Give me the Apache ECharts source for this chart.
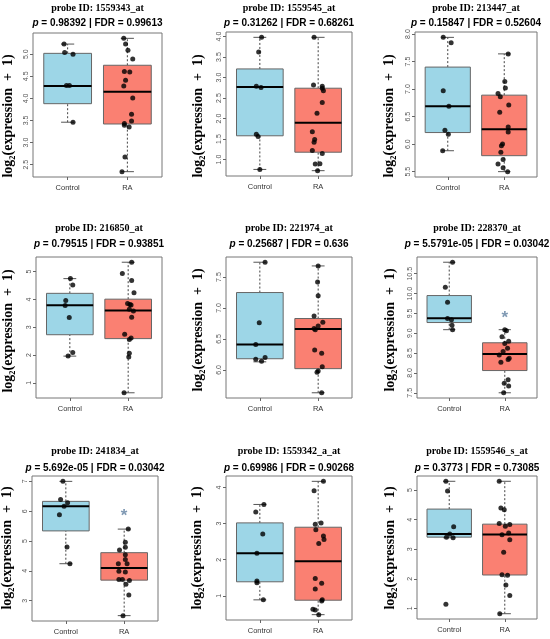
<!DOCTYPE html>
<html>
<head>
<meta charset="utf-8">
<script src="https://cdn.jsdelivr.net/npm/echarts@6/dist/echarts.min.js"></script>
<style>html,body{margin:0;background:#fff}#chart{width:550px;height:639px}</style>
</head>
<body>
<div id="chart"></div>
<script>
// 数据
const groups = ['Control', 'RA'];
const probes = ['1559343_at', '1559545_at', '213447_at', '216850_at', '221974_at', '228370_at', '241834_at', '1559342_a_at', '1559546_s_at'];
const pText = ['0.98392', '0.31262', '0.15847', '0.79515', '0.25687', '5.5791e-05', '5.692e-05', '0.69986', '0.3773'];
const fdrText = ['0.99613', '0.68261', '0.52604', '0.93851', '0.636', '0.03042', '0.03042', '0.90268', '0.73085'];

// [lo, Q1, median, Q3, hi]
const ctrlBox = [
  [3.46, 3.88, 4.28, 5.02, 5.23],
  [0.76, 1.58, 2.77, 3.21, 3.98],
  [5.88, 6.21, 6.69, 7.40, 7.94],
  [1.96, 2.73, 3.79, 4.22, 4.75],
  [6.13, 6.18, 6.41, 7.25, 7.74],
  [9.09, 9.27, 9.38, 9.95, 10.79],
  [4.24, 5.34, 6.17, 6.33, 7.00],
  [0.89, 1.39, 2.18, 3.02, 3.53],
  [3.39, 3.41, 3.52, 4.36, 5.30]
];
const raBox = [
  [2.34, 3.42, 4.15, 4.75, 5.36],
  [0.73, 1.18, 1.90, 2.74, 3.98],
  [5.50, 5.79, 6.27, 6.89, 7.64],
  [0.64, 2.59, 3.60, 4.01, 5.34],
  [5.63, 6.02, 6.66, 6.83, 7.68],
  [7.50, 8.06, 8.48, 8.76, 9.09],
  [2.50, 3.69, 4.10, 4.61, 5.40],
  [0.48, 0.88, 1.96, 2.90, 4.17],
  [0.82, 2.13, 3.50, 3.85, 5.30]
];

// 样本点
const ctrlVals = [
  [5.23, 5.04, 5.00, 4.29, 4.29, 3.46],
  [3.98, 3.62, 2.79, 2.76, 1.62, 1.56, 0.76],
  [7.94, 7.84, 6.97, 6.69, 6.25, 6.18, 5.88],
  [4.75, 4.52, 3.96, 3.78, 3.35, 2.09, 1.96],
  [7.74, 6.76, 6.41, 6.17, 6.14, 6.20],
  [10.79, 10.16, 9.78, 9.37, 9.34, 9.20, 9.09],
  [7.00, 6.39, 6.28, 6.17, 5.88, 4.80, 4.24],
  [3.53, 3.32, 2.71, 2.18, 1.41, 1.36, 0.89],
  [5.30, 4.97, 3.76, 3.52, 3.41, 3.39, 1.14]
];
const raVals = [
  [5.36, 5.23, 5.09, 4.89, 4.61, 4.60, 4.41, 4.28, 4.01, 3.64, 3.49, 3.43, 3.39, 3.35, 2.67, 2.34],
  [3.98, 2.82, 2.79, 2.74, 2.68, 2.39, 2.13, 1.68, 1.49, 1.42, 1.22, 1.15, 0.89, 0.90, 0.73],
  [7.64, 7.14, 7.02, 6.92, 6.86, 6.71, 6.58, 6.31, 6.22, 6.00, 5.97, 5.85, 5.72, 5.64, 5.57, 5.50],
  [5.34, 4.93, 4.68, 4.24, 3.85, 3.82, 3.80, 3.65, 3.58, 3.36, 2.75, 2.61, 2.56, 2.06, 1.93, 0.64],
  [7.68, 7.42, 7.20, 6.87, 6.77, 6.71, 6.67, 6.65, 6.32, 6.27, 6.05, 5.98, 5.96, 5.63],
  [9.09, 9.06, 8.91, 8.80, 8.74, 8.62, 8.54, 8.45, 8.34, 8.37, 8.27, 7.83, 7.74, 7.67, 7.50],
  [5.40, 4.96, 4.79, 4.70, 4.54, 4.38, 4.24, 4.24, 3.99, 3.96, 3.71, 3.71, 3.68, 3.55, 3.19, 2.50],
  [4.17, 3.91, 3.02, 2.98, 2.83, 2.66, 2.56, 2.45, 1.48, 1.35, 1.19, 0.89, 0.86, 0.63, 0.61, 0.48],
  [5.30, 4.40, 4.34, 3.87, 3.78, 3.84, 3.49, 3.55, 3.32, 2.90, 2.14, 2.12, 1.79, 1.44, 0.82]
];

// 抖动偏移
const ctrlJitter = [
  [-0.06, -0.05, 0.09, -0.02, 0.03, 0.09],
  [0.03, -0.02, -0.06, 0.02, -0.06, -0.03, 0],
  [-0.08, 0.06, -0.08, 0.02, -0.05, 0.01, -0.09],
  [0.01, 0.05, -0.07, -0.08, -0.01, 0.05, -0.03],
  [0.09, -0.01, -0.07, -0.07, 0.03, 0.09],
  [0.06, -0.07, -0.03, -0.03, 0.04, 0.05, 0.06],
  [-0.05, -0.09, 0.03, -0.03, -0.11, 0.02, 0.07],
  [0.07, -0.07, 0.05, -0.05, -0.05, -0.05, 0.06],
  [-0.06, -0.03, 0.08, 0.01, -0.05, 0.07, -0.06]
];
const raJitter = [
  [-0.06, -0.03, 0.01, 0.09, -0.05, 0.04, -0.03, -0.06, 0.09, 0.07, 0.07, -0.05, -0.05, 0.03, -0.04, -0.09],
  [-0.07, -0.08, 0.07, 0.07, 0.09, 0.07, -0.02, -0.10, -0.06, -0.07, -0.10, 0.07, -0.05, 0.03, -0.01],
  [0.07, 0.01, 0.02, -0.11, -0.07, 0.08, -0.08, 0.07, 0.07, -0.03, -0.05, -0.06, -0.02, -0.11, -0.02, 0.06],
  [0.06, -0.10, 0.06, 0.10, -0.01, 0.03, 0.05, 0.02, 0.09, 0.06, -0.06, 0.05, 0.02, 0.02, 0.01, -0.07],
  [0, -0.01, 0, -0.07, 0.08, 0, -0.07, -0.05, -0.06, 0.06, 0.07, 0, -0.02, 0.06],
  [0, 0.03, -0.05, 0.07, 0, 0.05, -0.03, -0.10, 0.06, 0.08, -0.07, 0.06, -0.01, 0.07, -0.02],
  [0.07, 0.02, 0.02, -0.08, 0.02, 0.02, -0.10, 0.05, -0.09, 0.02, -0.09, -0.03, 0.09, 0.03, 0.08, -0.02],
  [0.09, -0.07, 0.05, -0.05, -0.04, 0.09, 0.10, 0.01, -0.05, 0.06, -0.05, 0.07, 0.06, -0.09, -0.05, 0.01],
  [-0.10, -0.07, -0.01, -0.10, 0.01, 0.09, -0.05, 0.07, 0.09, -0.02, -0.05, 0.05, 0.02, 0.09, -0.09]
];

// 显著性星号位置
const starY = [null, null, null, null, null, 9.47, 5.96, null, null];

// 纵轴刻度
const yTickLabels = [
  ['2.5', '3.0', '3.5', '4.0', '4.5', '5.0'],
  ['1.0', '1.5', '2.0', '2.5', '3.0', '3.5', '4.0'],
  ['5.5', '6.0', '6.5', '7.0', '7.5', '8.0'],
  ['1', '2', '3', '4', '5'],
  ['6.0', '6.5', '7.0', '7.5'],
  ['7.5', '8.0', '8.5', '9.0', '9.5', '10.0', '10.5'],
  ['3', '4', '5', '6', '7'],
  ['1', '2', '3', '4'],
  ['1', '2', '3', '4', '5']
];

// 版面
const layout = [
  { l: 33, t: 33, w: 129, h: 144, t1: 8, t2: 23, yx: 8, yy: 116 },
  { l: 226, t: 32, w: 126, h: 144, t1: 8, t2: 23, yx: 198, yy: 116 },
  { l: 415, t: 32, w: 122, h: 145, t1: 8, t2: 23, yx: 389, yy: 116 },
  { l: 36, t: 257, w: 126, h: 141, t1: 228, t2: 244, yx: 8, yy: 331 },
  { l: 226, t: 257, w: 126, h: 141, t1: 228, t2: 244, yx: 198, yy: 330 },
  { l: 417, t: 257, w: 120, h: 141, t1: 228, t2: 244, yx: 390, yy: 330 },
  { l: 32, t: 476, w: 126, h: 145, t1: 451, t2: 468, yx: 7, yy: 548 },
  { l: 226, t: 476, w: 126, h: 144, t1: 451, t2: 468, yx: 197, yy: 548 },
  { l: 417, t: 476, w: 120, h: 143, t1: 451, t2: 468, yx: 390, yy: 548 }
];

const ctrlColor = '#9dd6e7';
const raColor = '#fa8072';
const serif = 'Liberation Serif';
const sans = 'Liberation Sans';

// 画箱体
function renderBox(params, api) {
  const x = api.value(0);
  const lo = api.coord([x, api.value(1)]);
  const q1 = api.coord([x, api.value(2)]);
  const med = api.coord([x, api.value(3)]);
  const q3 = api.coord([x, api.value(4)]);
  const hi = api.coord([x, api.value(5)]);
  const half = api.size([0.4, 0])[0];
  const cap = api.size([0.11, 0])[0];
  const fill = params.dataIndex === 0 ? ctrlColor : raColor;
  const whisk = { stroke: '#444', lineWidth: 1, lineDash: [2, 2] };
  return {
    type: 'group',
    children: [
      { type: 'line', shape: { x1: lo[0], y1: lo[1], x2: q1[0], y2: q1[1] }, style: whisk },
      { type: 'line', shape: { x1: q3[0], y1: q3[1], x2: hi[0], y2: hi[1] }, style: whisk },
      { type: 'line', shape: { x1: lo[0] - cap, y1: lo[1], x2: lo[0] + cap, y2: lo[1] }, style: { stroke: '#555', lineWidth: 1 } },
      { type: 'line', shape: { x1: hi[0] - cap, y1: hi[1], x2: hi[0] + cap, y2: hi[1] }, style: { stroke: '#555', lineWidth: 1 } },
      { type: 'rect', shape: { x: q3[0] - half, y: q3[1], width: half * 2, height: q1[1] - q3[1] }, style: { fill: fill, stroke: '#666', lineWidth: 1 } },
      { type: 'line', shape: { x1: med[0] - half, y1: med[1], x2: med[0] + half, y2: med[1] }, style: { stroke: '#000', lineWidth: 2 } }
    ]
  };
}

const grids = [], xAxes = [], yAxes = [], series = [], graphics = [];

layout.forEach((g, i) => {
  const all = ctrlVals[i].concat(raVals[i]);
  const lo = Math.min.apply(null, all), hi = Math.max.apply(null, all);
  const pad = (hi - lo) * 0.04;
  const ticks = yTickLabels[i].map(Number);

  grids.push({ left: g.l, top: g.t, width: g.w, height: g.h, show: true, borderColor: '#777', borderWidth: 1 });

  xAxes.push({
    type: 'value', gridIndex: i, min: 0.42, max: 2.58,
    axisLine: { show: false }, splitLine: { show: false },
    axisTick: { show: true, customValues: [1, 2], length: 3, lineStyle: { color: '#666' } },
    axisLabel: { customValues: [1, 2], formatter: v => groups[Math.round(v) - 1], fontSize: 7.5, color: '#333', fontFamily: sans, margin: 7 }
  });
  yAxes.push({
    type: 'value', gridIndex: i, min: lo - pad, max: hi + pad,
    axisLine: { show: false }, splitLine: { show: false },
    axisTick: { show: true, customValues: ticks, length: 3, lineStyle: { color: '#666' } },
    axisLabel: {
      customValues: ticks, rotate: 90, fontSize: 7, color: '#555', fontFamily: sans, margin: 3,
      formatter: v => yTickLabels[i][ticks.indexOf(v)] || ''
    }
  });

  series.push({
    type: 'custom', xAxisIndex: i, yAxisIndex: i, renderItem: renderBox,
    encode: { x: 0, y: [1, 2, 3, 4, 5] },
    data: [[1].concat(ctrlBox[i]), [2].concat(raBox[i])], silent: true
  });
  series.push({
    type: 'scatter', xAxisIndex: i, yAxisIndex: i, symbolSize: 5, itemStyle: { color: '#000' }, silent: true,
    data: ctrlVals[i].map((v, j) => [1 + ctrlJitter[i][j], v])
  });
  series.push({
    type: 'scatter', xAxisIndex: i, yAxisIndex: i, symbolSize: 5, itemStyle: { color: '#000' }, silent: true,
    data: raVals[i].map((v, j) => [2 + raJitter[i][j], v])
  });
  if (starY[i] !== null) {
    series.push({
      type: 'scatter', xAxisIndex: i, yAxisIndex: i, symbolSize: 8, itemStyle: { color: 'rgba(0,0,0,0)' }, silent: true,
      data: [[2, starY[i]]],
      label: { show: true, position: 'inside', formatter: '*', fontSize: 17, fontWeight: 'bold', fontFamily: sans, color: '#5f7fa0', offset: [0, 4] }
    });
  }

  const cx = g.l + g.w / 2;
  graphics.push({
    type: 'text', x: cx, y: g.t1,
    style: { text: 'probe ID: ' + probes[i], fontFamily: serif, fontWeight: 'bold', fontSize: 10, fill: '#000',
      align: 'center', verticalAlign: 'middle', textAlign: 'center', textVerticalAlign: 'middle' }
  });
  graphics.push({
    type: 'text', x: cx, y: g.t2,
    style: {
      text: '{i|p} = ' + pText[i] + ' | FDR = ' + fdrText[i],
      fontFamily: sans, fontWeight: 'bold', fontSize: 10, fill: '#000',
      align: 'center', verticalAlign: 'middle', textAlign: 'center', textVerticalAlign: 'middle',
      rich: { i: { fontFamily: sans, fontWeight: 'bold', fontStyle: 'italic', fontSize: 10, fill: '#000' } }
    }
  });
  graphics.push({
    type: 'text', x: g.yx, y: g.yy, rotation: Math.PI / 2,
    style: { text: 'log\u2082(expression  +  1)', fontFamily: serif, fontWeight: 'bold', fontSize: 14, fill: '#000',
      align: 'center', verticalAlign: 'middle', textAlign: 'center', textVerticalAlign: 'middle' }
  });
});

const chart = echarts.init(document.getElementById('chart'));
chart.setOption({
  backgroundColor: '#fff',
  animation: false,
  grid: grids,
  xAxis: xAxes,
  yAxis: yAxes,
  series: series,
  graphic: graphics
});
</script>
</body>
</html>
